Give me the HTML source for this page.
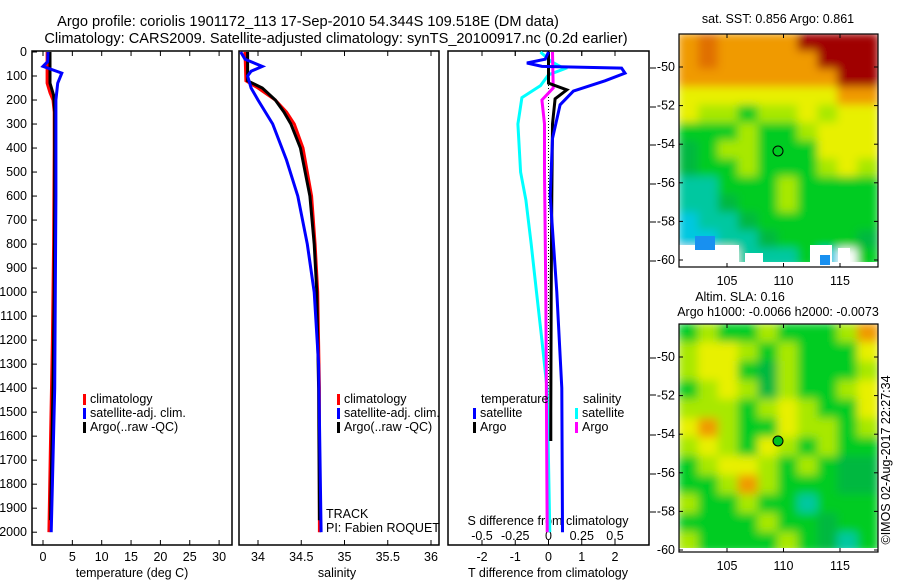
<!DOCTYPE html>
<html><head><meta charset="utf-8"><style>
html,body{margin:0;padding:0;background:#fff;}
svg{display:block;font-family:"Liberation Sans",sans-serif;}
text{font-size:12.5px;fill:#000;}
</style></head><body>
<svg id="fig" width="900" height="580" viewBox="0 0 900 580" xmlns="http://www.w3.org/2000/svg">
<defs>
<filter id="blur" x="-5%" y="-5%" width="110%" height="110%"><feGaussianBlur stdDeviation="4.5"/></filter>
<clipPath id="clipTop"><rect x="679" y="34" width="199" height="233"/></clipPath>
<clipPath id="clipBot"><rect x="679" y="324" width="199" height="228"/></clipPath>
</defs>
<text x="308" y="26" text-anchor="middle" style="font-size:14.6px">Argo profile: coriolis 1901172_113 17-Sep-2010 54.344S 109.518E (DM data)</text>
<text x="336" y="43" text-anchor="middle" style="font-size:14.6px">Climatology: CARS2009. Satellite-adjusted climatology: synTS_20100917.nc (0.2d earlier)</text>
<g id="plots"></g>
<g id="maps"></g>
<text transform="translate(890,460) rotate(-90)" text-anchor="middle">©IMOS 02-Aug-2017 22:27:34</text>
</svg>
<script>
// ---------- data ----------
const depthTicks=[0,100,200,300,400,500,600,700,800,900,1000,1100,1200,1300,1400,1500,1600,1700,1800,1900,2000];
const tTicks=[0,5,10,15,20,25,30];
const sTicks=[34,34.5,35,35.5,36];
const tdTicks=[-2,-1,0,1,2];
const sdTicks=[-0.5,-0.25,0,0.25,0.5];
// temperature profiles
const tClimDepth=[0,130,170,200,250,400,800,1200,1600,2000];
const tClimVal=[0.7,0.7,1.2,1.7,1.9,1.9,1.8,1.6,1.3,1.0];
const tSatDepth=[0,40,60,88,130,200,600,1000,1400,1800,2000];
const tSatVal=[0.85,0.8,0.0,3.2,2.5,2.2,2.2,2.1,2.0,1.6,1.4];
const tArgoDepth=[0,130,180,250,600,1000,1400,1800,1950];
const tArgoVal=[1.2,1.2,1.8,2.0,2.0,1.9,1.7,1.4,1.3];
// salinity profiles
const sClimDepth=[0,120,150,200,250,300,400,600,800,1000,1400,2000];
const sClimVal=[33.85,33.86,34.0,34.2,34.33,34.42,34.52,34.62,34.66,34.69,34.71,34.71];
const sSatDepth=[0,30,60,80,100,150,200,300,450,600,800,1000,1300,2000];
const sSatVal=[33.8,33.85,34.05,33.92,33.88,33.92,34.0,34.17,34.33,34.46,34.57,34.65,34.7,34.73];
const sArgoDepth=[0,120,150,200,250,300,400,600,800,1000,1400,1950];
const sArgoVal=[33.88,33.88,34.05,34.2,34.3,34.38,34.49,34.6,34.65,34.68,34.7,34.71];
// differences
const dtSatDepth=[0,30,46,60,67,88,120,163,220,360,600,1000,1400,2000];
const dtSatVal=[0,-0.1,-0.65,-0.2,2.2,2.3,1.7,0.75,0.35,0.12,0.05,0.25,0.4,0.42];
const dtArgoDepth=[0,130,158,195,300,600,1000,1500,1620];
const dtArgoVal=[0,0,0.55,0.2,0.12,0.1,0.08,0.07,0.07];
const dsSatDepth=[0,40,70,95,140,190,300,500,617,800,1000,1200,1408,2000];
const dsSatVal=[-0.06,0.02,0.12,0.0,-0.06,-0.2,-0.23,-0.21,-0.17,-0.13,-0.09,-0.05,-0.01,0.01];
const dsArgoDepth=[0,150,200,300,500,1000,2000];
const dsArgoVal=[0.03,0.035,-0.05,-0.03,-0.03,-0.02,-0.01];

// ---------- axes ----------
const NS='http://www.w3.org/2000/svg';
const Y0=51,Y1=545;
const yD=d=>52+d*0.2401;
const xT=v=>43+v*5.87;
const xS=v=>258+(v-34)*86.5;
const xTD=v=>548.5+v*33.25;
const xSD=v=>548.5+v*133;
const g=document.getElementById('plots');
function el(tag,attrs,parent){const e=document.createElementNS(NS,tag);for(const k in attrs)e.setAttribute(k,attrs[k]);(parent||g).appendChild(e);return e;}
function txt(x,y,s,anchor,parent){const t=el('text',{x:x,y:y,'text-anchor':anchor||'start'},parent);t.textContent=s;return t;}

const panels=[[32,232,'temperature-panel'],[239,439,'salinity-panel'],[448,649,'difference-panel']];
panels.forEach(p=>{
  const r=el('rect',{x:p[0],y:Y0,width:p[1]-p[0],height:Y1-Y0,fill:'none',stroke:'#000','stroke-width':1.5});
  
  
});
depthTicks.forEach(d=>{
  const y=yD(d);
  el('line',{x1:32,x2:37,y1:y,y2:y,stroke:'#000'});
  const t=txt(27,y+4,String(d),'end');
  
  
});
[68,107,145,184,222,261,358,395,435,474,512].forEach(y=>el('line',{x1:650,x2:656,y1:y,y2:y,stroke:'#000'}));
function xticks(ticks,fx,labY,fmt,top){
  ticks.forEach(v=>{
    const x=fx(v);
    if(top){el('line',{x1:x,x2:x,y1:Y0,y2:Y0+5,stroke:'#000'});el('line',{x1:x,x2:x,y1:Y1,y2:Y1-5,stroke:'#000'});}
    const t=txt(x,labY,fmt?fmt(v):String(v),'middle');
    
    
  });
}
xticks(tTicks,xT,561,null,true);
xticks(sTicks,xS,561,null,true);
xticks(tdTicks,xTD,561,null,true);
sdTicks.forEach(v=>{const x=xSD(v);el('line',{x1:x,x2:x,y1:Y0,y2:Y0+5,stroke:'#000'});});
xticks(sdTicks,xSD,540,v=>String(v));
let t;
t=txt(132,577,'temperature (deg C)','middle');
t=txt(337,577,'salinity','middle');
t=txt(548,577,'T difference from climatology','middle');
t=txt(548,525,'S difference from climatology','middle');
el('line',{x1:xTD(0),x2:xTD(0),y1:yD(0),y2:yD(1500),stroke:'#000','stroke-dasharray':'1 2','stroke-width':1});

function series(depths,vals,fx,color,name){
  const pts=depths.map((d,i)=>fx(vals[i]).toFixed(1)+','+yD(d).toFixed(1)).join(' ');
  const p=el('polyline',{points:pts,fill:'none',stroke:color,'stroke-width':3,'stroke-linejoin':'miter'});
  
  
}
series(tClimDepth,tClimVal,xT,'#f00','temp-climatology-line');
series(tArgoDepth,tArgoVal,xT,'#000','temp-argo-line');
series(tSatDepth,tSatVal,xT,'#00f','temp-satellite-line');
series(sClimDepth,sClimVal,xS,'#f00','sal-climatology-line');
series(sArgoDepth,sArgoVal,xS,'#000','sal-argo-line');
series(sSatDepth,sSatVal,xS,'#00f','sal-satellite-line');
series(dsSatDepth,dsSatVal,xSD,'#0ff','sdiff-satellite-line');
series(dsArgoDepth,dsArgoVal,xSD,'#f0f','sdiff-argo-line');
series(dtArgoDepth,dtArgoVal,xTD,'#000','tdiff-argo-line');
series(dtSatDepth,dtSatVal,xTD,'#00f','tdiff-satellite-line');

function legend(x,y,color,label){
  const b=el('rect',{x:x,y:y-9,width:3,height:11,fill:color});
  
  
  const tt=txt(x+7,y,label);
  
  
}
legend(83,403,'#f00','climatology');legend(83,417,'#00f','satellite-adj. clim.');legend(83,431,'#000','Argo(..raw -QC)');
legend(337,403,'#f00','climatology');legend(337,417,'#00f','satellite-adj. clim.');legend(337,431,'#000','Argo(..raw -QC)');
t=txt(481,403,'temperature');
legend(473,417,'#00f','satellite');legend(473,431,'#000','Argo');
t=txt(583,403,'salinity');
legend(575,417,'#0ff','satellite');legend(575,431,'#f0f','Argo');
t=txt(326,518,'TRACK');
t=txt(326,532,'PI: Fabien ROQUET');

// ---------- maps ----------
const mg=document.getElementById('maps');
const C={R:'#a00000',o:'#e07000',O:'#f09a00',Y:'#e8f000',L:'#a8e800',G:'#00cc20',g:'#00b840',T:'#00c8a0',C:'#00c8e0',W:'#ffffff',B:'#00a0f0'};
const topGrid=['OoOOOORRRR','OoOOOOORRR','OOOOOOOORR','YYYYYYYYOO','YLLGLLYLYY','GGGLGGLYYY','gGLLGGGYYY','gGGLGGGLYL','TTGGGLGGGG','TTgGGLGGGG','CTTgGGGGGG','CCTTgGGGGg','WWWTTTGCWG'];
const botGrid=['GLGGLGGGLO','LYYLGLGGGY','LYYGgLGGGL','GLYLgLGGLY','LLLGLYLGGY','YOLGGYLLGL','LYLGYLGLGG','GLYYLGLGgg','GGLOLGGGgg','LGGLGGTGGG','GGGGLGGgGG','LGGGGLGgTG'];
function drawMap(grid,x0,y0,w,h,clip,name){
  const mgEl=document.createElementNS(NS,'g');mgEl.setAttribute('clip-path','url(#'+clip+')');
  
  
  mg.appendChild(mgEl);
  const inner=document.createElementNS(NS,'g');inner.setAttribute('filter','url(#blur)');mgEl.appendChild(inner);
  const rows=grid.length,cols=grid[0].length,cw=w/cols,ch=h/rows;
  grid.forEach((row,r)=>{for(let c=0;c<cols;c++){el('rect',{x:x0+c*cw-1,y:y0+r*ch-1,width:cw+2,height:ch+2,fill:C[row[c]]},inner);}});
  return mgEl;
}
const tm=drawMap(topGrid,679,34,199,233,'clipTop','sst-map');
[[679,245,60,22],[745,253,18,14],[810,245,22,22],[838,248,12,19],[679,262,199,5]].forEach(a=>el('rect',{x:a[0],y:a[1],width:a[2],height:a[3],fill:'#fff'},tm));
[[695,236,20,14],[820,255,10,10]].forEach(a=>el('rect',{x:a[0],y:a[1],width:a[2],height:a[3],fill:'#1890f0'},tm));
const bm=drawMap(botGrid,679,324,199,228,'clipBot','sla-map');
el('rect',{x:679,y:548,width:199,height:4,fill:'#fff'},bm);
function mapAxes(x0,y0,x1,y1,latY,name){
  const r=el('rect',{x:x0,y:y0,width:x1-x0,height:y1-y0,fill:'none',stroke:'#000','stroke-width':1.2},mg);
  
  [105,110,115].forEach(lon=>{const x=727+(lon-105)*11.3;el('line',{x1:x,x2:x,y1:y1,y2:y1-4,stroke:'#000'},mg);el('line',{x1:x,x2:x,y1:y0,y2:y0+4,stroke:'#000'},mg);const tt=txt(x,y1+18,String(lon),'middle',mg);});
  [-50,-52,-54,-56,-58,-60].forEach((lat,i)=>{const y=latY[0]+i*(latY[1]-latY[0])/5;el('line',{x1:x0,x2:x0+4,y1:y,y2:y,stroke:'#000'},mg);el('line',{x1:x1,x2:x1-4,y1:y,y2:y,stroke:'#000'},mg);const tt=txt(x0-4,y+4,String(lat),'end',mg);});
}
mapAxes(679,34,878,267,[67,260],'sst-map');
mapAxes(679,324,878,552,[357,550],'sla-map');
el('circle',{cx:778,cy:151,r:5,fill:'none',stroke:'#000','stroke-width':1},mg);
el('circle',{cx:778,cy:441,r:5,fill:'#00c020',stroke:'#000','stroke-width':1},mg);
t=txt(778,23,'sat. SST: 0.856 Argo: 0.861','middle',mg);
t=txt(740,301,'Altim. SLA: 0.16','middle',mg);
t=txt(778,316,'Argo h1000: -0.0066 h2000: -0.0073','middle',mg);
</script>
</body></html>
